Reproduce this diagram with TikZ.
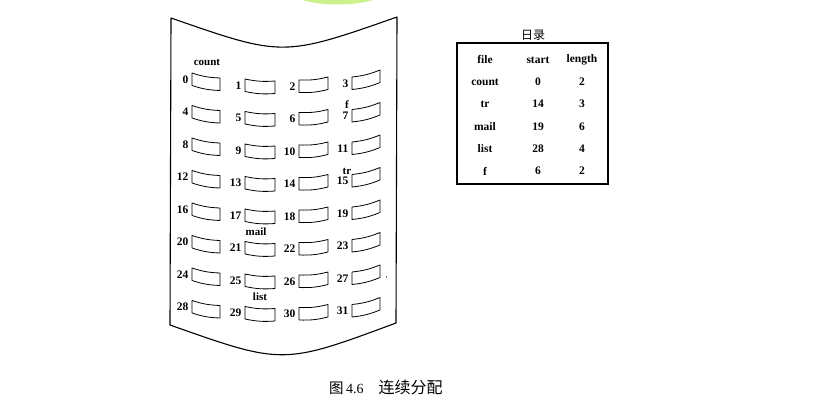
\documentclass[tikz,border=0pt]{standalone}
\usepackage{fontspec}
\setmainfont{Liberation Serif}
\newfontfamily\cjk{Noto Sans CJK SC}
\begin{document}
\begin{tikzpicture}[x=1pt,y=-1pt,
  sheet/.style={line width=1.1pt,line join=round},
  cellbox/.style={line width=0.8pt,line join=round},
  num/.style={font=\fontsize{11.5}{12}\selectfont\bfseries,inner sep=0pt},
  lbl/.style={font=\fontsize{11}{12}\selectfont\bfseries,inner sep=0pt},
  tab/.style={font=\fontsize{11.5}{12}\selectfont\bfseries,inner sep=0pt},
  blob/.style={fill={rgb,255:red,204;green,242;blue,140}}]
\useasboundingbox (0,0) rectangle (825,403);
% green smear at top
\fill[blob] (302,0) .. controls (322,6) and (353,6) .. (373,0) -- cycle;
% curved sheet
\coordinate (tl) at (171,18);
\coordinate (tr) at (397,17);
\coordinate (br) at (396,323);
\coordinate (bl) at (170,325);
\draw[sheet] (tl) .. controls (283,57) .. (tr) -- (br) .. controls (283,365) .. (bl) -- cycle;
% cells
\foreach \c/\xa/\xb/\ya/\yb in {0/192/220/73/78, 1/245/275/79/81, 2/299/328/80/77, 3/352/380/77/70} {
  \foreach \r in {0,...,7} {
    \pgfmathsetmacro\dy{32.5*\r}
    \pgfmathtruncatemacro\n{4*\r+\c}
    \draw[cellbox] (\xa,\ya+\dy) to[bend right=8] (\xb,\yb+\dy) -- (\xb,\yb+\dy+12.5)
       to[bend left=8] (\xa,\ya+\dy+12.5) -- cycle;
    \node[num,anchor=east] (n\n) at (\xa-3.5,\ya+\dy+6.5) {\n};
  }
}
% file labels
\node[lbl] (lcount) at (207,62) {count};
\node[lbl] (lf) at (347,105) {f};
\node[lbl] (ltr) at (347,171) {tr};
\node[lbl] (lmail) at (256,232) {mail};
\node[lbl] (llist) at (260,297) {list};
\fill (386.5,277) circle (0.6);
% directory table
\node[font=\cjk\fontsize{12}{13}\selectfont,inner sep=0pt] (title) at (533,35) {日录};
\draw[line width=1.2pt] (457,43) rectangle (608,184);
\foreach \row/\a/\b/\cc [count=\i] in {60/file/start/length, 82/count/0/2, 104/tr/14/3, 126.5/mail/19/6, 148.5/list/28/4, 171/f/6/2} {
  \node[tab] (ta\i) at (485,\row) {\a};
  \node[tab] (tb\i) at (538,\row) {\b};
  \node[tab] (tc\i) at (582,\row) {\cc};
}
% caption
\node[anchor=west,inner sep=0pt,font=\fontsize{14}{15}\selectfont] (cap) at (329,387)
  {{\cjk\fontsize{14.5}{15}\selectfont 图}\,4.6\hspace{15pt}{\cjk\fontsize{16}{17}\selectfont 连续分配}};
\end{tikzpicture}
\end{document}
